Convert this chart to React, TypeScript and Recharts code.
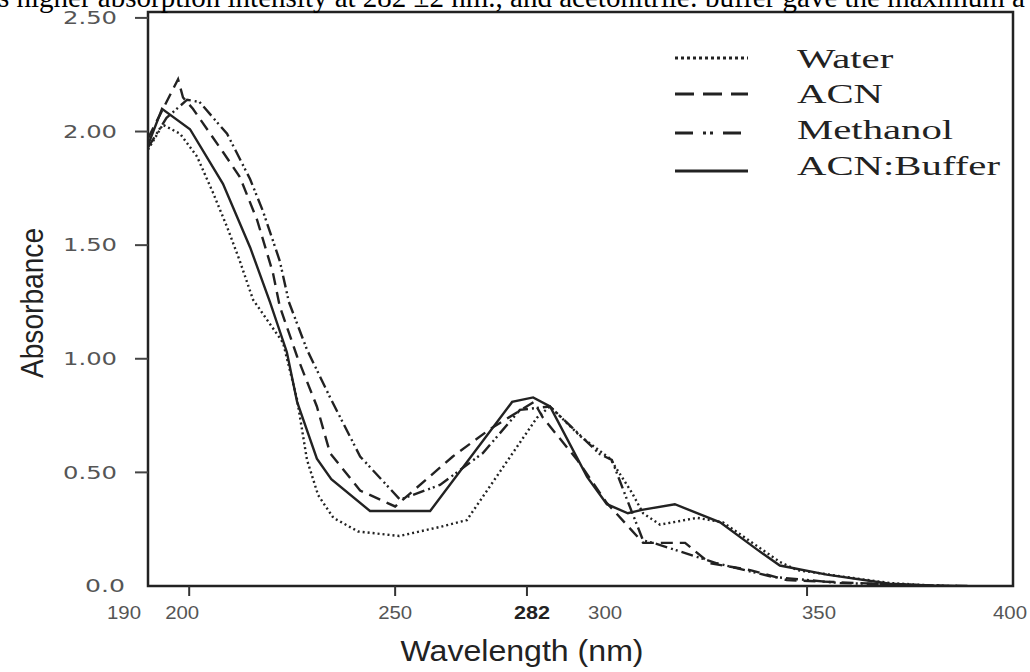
import React from 'react';
import { LineChart, Line, XAxis, YAxis, ReferenceArea } from 'recharts';

// wavelength (nm) and absorbance, one pair of arrays per solvent
const waterWl = [190, 193.6, 197.8, 201.9, 205.8, 209.2, 212.3, 215.5, 222.8, 226.2, 228.6, 231.3, 235, 241, 251, 260.9, 267.4, 284.4, 287.6, 294.9, 302.2, 307.5, 310.2, 314.3, 323.3, 329.6, 343.4, 347.6, 361.2, 370.1, 382.3];
const waterAbs = [1.92, 2.03, 1.99, 1.89, 1.73, 1.58, 1.43, 1.26, 1.07, 0.82, 0.555, 0.4, 0.3, 0.24, 0.22, 0.26, 0.29, 0.74, 0.79, 0.66, 0.56, 0.41, 0.32, 0.27, 0.3, 0.28, 0.106, 0.07, 0.035, 0.013, 0];

const acnWl = [190, 197.3, 198.5, 200.9, 208.2, 212.3, 216.5, 220.3, 222, 226.2, 231, 234.2, 241.5, 250, 264, 273, 283.7, 285.9, 294.2, 301.4, 310.2, 320.4, 326.4, 336.2, 345.1, 374.3, 390.3];
const acnAbs = [1.97, 2.23, 2.15, 2.1, 1.91, 1.8, 1.61, 1.38, 1.23, 1.01, 0.79, 0.585, 0.42, 0.35, 0.57, 0.69, 0.81, 0.74, 0.555, 0.365, 0.19, 0.19, 0.1, 0.07, 0.026, 0.004, 0];

const methanolWl = [190, 194.5, 199.5, 202.5, 209.2, 214.8, 217.9, 222, 224.2, 228.6, 234.2, 241.5, 251.2, 260.9, 271.3, 280.3, 287.6, 299.7, 302.6, 306.3, 310.2, 312.6, 328.1, 341.7, 358, 386.4];
const methanolAbs = [1.93, 2.06, 2.14, 2.13, 1.99, 1.79, 1.65, 1.43, 1.25, 1.04, 0.83, 0.57, 0.38, 0.445, 0.585, 0.775, 0.79, 0.58, 0.555, 0.38, 0.2, 0.19, 0.1, 0.04, 0.013, 0];

const bufferWl = [190, 193.4, 200.2, 208.2, 214.8, 219.6, 223.7, 226.2, 231, 234.5, 243.9, 258.5, 278.4, 283.5, 287.6, 296.6, 301.4, 306.5, 309.9, 317.9, 328.9, 337.9, 343.4, 354.8, 370.1, 382.3];
const bufferAbs = [1.94, 2.1, 2.01, 1.77, 1.49, 1.25, 1.03, 0.81, 0.56, 0.47, 0.33, 0.33, 0.81, 0.83, 0.79, 0.48, 0.36, 0.32, 0.335, 0.36, 0.28, 0.16, 0.09, 0.05, 0.01, 0];

const xTicks = [190, 200, 250, 282, 300, 350, 400];
const xTickMarks = [200, 250, 282, 350];
const yTicks = [0, 0.5, 1, 1.5, 2, 2.5];
const yTickLabels = ['0.0', '0.50', '1.00', '1.50', '2.00', '2.50'];

const caption = 's higher absorption intensity at 282 \u00b12 nm., and acetonitrile: buffer gave the maximum a';

const zip = (wl: number[], ab: number[]) => wl.map((w, i) => ({ wl: w, abs: ab[i] }));

const series = [
  { name: 'Water', data: zip(waterWl, waterAbs), dash: '2 3', legendDash: '3 3' },
  { name: 'ACN', data: zip(acnWl, acnAbs), dash: '12 7', legendDash: '19 9' },
  { name: 'Methanol', data: zip(methanolWl, methanolAbs), dash: '12 4 2 3 2 4', legendDash: '18 10 3 4 3 10' },
  { name: 'ACN:Buffer', data: zip(bufferWl, bufferAbs), dash: undefined, legendDash: undefined },
];

const INK = '#222';

// small nudges so the labels sit where the original figure printed them
const xLabelShift: Record<number, number> = { 190: -24, 200: -7, 250: 0, 282: 5, 300: 4, 350: 12, 400: -3 };

const XTick = (props: any) => {
  const { x, y, payload } = props;
  const v = payload.value;
  const bold = v === 282;
  return (
    <g>
      {xTickMarks.includes(v) && <line x1={x} x2={x} y1={y} y2={y + 10} stroke="#333" strokeWidth={2} />}
      <text
        x={x + (xLabelShift[v] || 0)}
        y={y + 33}
        textAnchor="middle"
        textLength={bold ? 36 : 34}
        lengthAdjust="spacingAndGlyphs"
        fontFamily="'Liberation Sans', Arial, sans-serif"
        fontSize={18}
        fontWeight={bold ? 700 : 400}
        fill={bold ? INK : '#555'}
      >
        {v}
      </text>
    </g>
  );
};

const YTick = (props: any) => {
  const { x, y, payload, index } = props;
  const v = payload.value;
  const label = yTickLabels[index] ?? String(v);
  return (
    <g>
      {v !== 0 && <line x1={x - 13} x2={x} y1={y} y2={y} stroke="#444" strokeWidth={2} />}
      <text
        x={v === 0 ? x - 23 : x - 31}
        y={y}
        dy="0.36em"
        textAnchor="end"
        textLength={label.length === 3 ? 40 : 54}
        lengthAdjust="spacingAndGlyphs"
        fontFamily="'DejaVu Sans', sans-serif"
        fontSize={17}
        fill="#555"
      >
        {label}
      </text>
    </g>
  );
};

const legendLineY = [58, 94, 133, 171];
const legendTextY = [68, 103, 139, 175];

export default function App() {
  return (
    <div style={{ position: 'absolute', left: 0, top: 0, width: 1030, height: 672, overflow: 'hidden', background: '#fff' }}>
      <LineChart width={1030} height={672} margin={{ top: 12, right: 17, bottom: 26, left: 48 }}>
        <XAxis
          type="number"
          dataKey="wl"
          domain={[190, 400]}
          ticks={xTicks}
          allowDataOverflow
          axisLine={false}
          tickLine={false}
          tickSize={0}
          tickMargin={0}
          height={60}
          tick={<XTick />}
          interval={0}
        />
        <YAxis
          type="number"
          domain={[0, 2.526]}
          ticks={yTicks}
          allowDataOverflow
          axisLine={false}
          tickLine={false}
          tickSize={0}
          tickMargin={0}
          width={100}
          tick={<YTick />}
          interval={0}
        />
        <ReferenceArea x1={190} x2={400} y1={0} y2={2.526} fill="none" stroke={INK} strokeWidth={2.5} />
        {series.map((s) => (
          <Line
            key={s.name}
            data={s.data}
            dataKey="abs"
            name={s.name}
            type="linear"
            stroke={INK}
            strokeWidth={2.4}
            strokeDasharray={s.dash}
            dot={false}
            activeDot={false}
            isAnimationActive={false}
          />
        ))}
      </LineChart>

      {/* caption cut off at the top, axis titles and legend */}
      <svg width={1030} height={672} style={{ position: 'absolute', left: 0, top: 0, pointerEvents: 'none' }}>
        <text x={-2} y={7} fontFamily="'Liberation Serif', 'Times New Roman', serif" fontSize={29} fill="#000">
          {caption}
        </text>
        <text
          transform="translate(43,303) rotate(-90) scale(0.88,1)"
          textAnchor="middle"
          fontFamily="'Liberation Sans', Arial, sans-serif"
          fontSize={32}
          fill={INK}
        >
          Absorbance
        </text>
        <text
          transform="translate(522,661) scale(1.07,1)"
          textAnchor="middle"
          fontFamily="'Liberation Sans', Arial, sans-serif"
          fontSize={30}
          fill={INK}
        >
          Wavelength (nm)
        </text>
        {series.map((s, i) => (
          <g key={s.name}>
            <line
              x1={675}
              x2={748}
              y1={legendLineY[i]}
              y2={legendLineY[i]}
              stroke={INK}
              strokeWidth={3}
              strokeDasharray={s.legendDash}
            />
            <text
              transform={`translate(797,${legendTextY[i]}) scale(1.51,1)`}
              fontFamily="'Liberation Serif', 'Times New Roman', serif"
              fontSize={27}
              fill={INK}
            >
              {s.name}
            </text>
          </g>
        ))}
      </svg>
    </div>
  );
}
